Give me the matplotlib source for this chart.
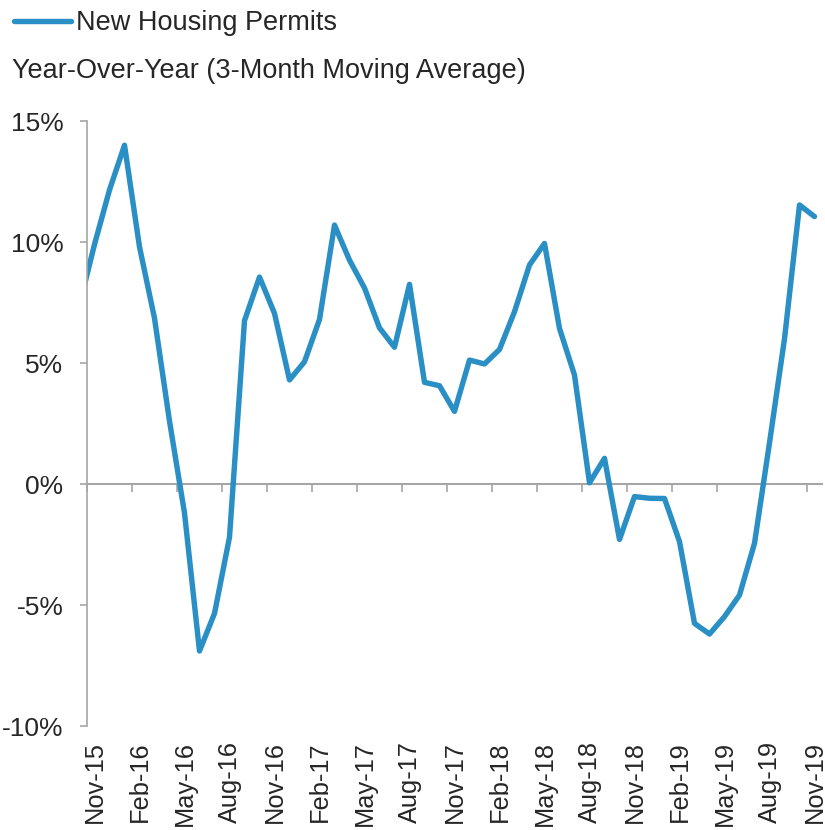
import numpy as np
import matplotlib.pyplot as plt

plt.rcParams['font.family'] = ['Liberation Sans', 'DejaVu Sans']
plt.rcParams['text.color'] = '#262626'
plt.rcParams['xtick.labelcolor'] = '#262626'
plt.rcParams['ytick.labelcolor'] = '#262626'

# Monthly values, Nov-15 .. Nov-19 (a prior Oct-15 value keeps the line running to the axis edge)
prior_value = 7.4
permits_yoy = [9.9, 12.15, 14.0, 9.8, 6.85, 2.6, -1.2, -6.9, -5.35, -2.2, 6.75, 8.55,
               7.05, 4.3, 5.05, 6.8, 10.7, 9.25, 8.1, 6.45, 5.65, 8.25, 4.2, 4.06,
               3.0, 5.12, 4.96, 5.56, 7.12, 9.05, 9.94, 6.43, 4.5, 0.05, 1.06, -2.29,
               -0.52, -0.59, -0.6, -2.38, -5.76, -6.2, -5.48, -4.59, -2.45, 1.7, 6.0, 11.53,
               11.05]
tick_labels = ['Nov-15', 'Feb-16', 'May-16', 'Aug-16', 'Nov-16', 'Feb-17', 'May-17',
               'Aug-17', 'Nov-17', 'Feb-18', 'May-18', 'Aug-18', 'Nov-18', 'Feb-19',
               'May-19', 'Aug-19', 'Nov-19']
y_ticks = [15, 10, 5, 0, -5, -10]

blue = '#2A8FC5'
grey = '#A6A6A6'
fs = 19.5

fig = plt.figure(figsize=(8.25, 8.3), dpi=100)
ax = fig.add_axes([87 / 825, 1 - 726 / 830, 735 / 825, 605 / 830])

x = np.arange(-1, len(permits_yoy))
y = np.array([prior_value] + permits_yoy)
line, = ax.plot(x, y, color=blue, lw=3.9, solid_capstyle='round',
                solid_joinstyle='round', label='New Housing Permits')

ax.set_xlim(-0.5, len(permits_yoy) - 0.5)
ax.set_ylim(-10, 15)

ax.set_yticks(y_ticks)
ax.set_yticklabels([f'{v}%' for v in y_ticks])
ax.tick_params(axis='y', length=5, width=1.2, color=grey, pad=12, labelsize=19)

ax.set_xticks(np.arange(0, len(permits_yoy), 3))
ax.set_xticklabels(tick_labels, rotation=90, va='top', ha='center')
ax.tick_params(axis='x', length=0, pad=11, labelsize=18.3)

for s in ['top', 'right', 'bottom']:
    ax.spines[s].set_visible(False)
ax.spines['left'].set_color(grey)
ax.spines['left'].set_linewidth(1.2)

# zero line with category-boundary tick marks
zero_frac = (0 - (-10)) / 25
sec = ax.secondary_xaxis(zero_frac)
sec.set_xticks(np.arange(-0.5, len(permits_yoy) - 1, 3))
sec.set_xticklabels([])
sec.tick_params(axis='x', length=6, width=1.2, color=grey, direction='out')
sec.spines['bottom'].set_color(grey)
sec.spines['bottom'].set_linewidth(1.5)

fig.legend(handles=[line], loc='upper left', bbox_to_anchor=(14 / 825, 1 - 10 / 830),
           frameon=False, fontsize=fs, handlelength=2.1, handletextpad=0.2,
           borderpad=0, borderaxespad=0)
fig.text(12 / 825, 1 - 71 / 830, 'Year-Over-Year (3-Month Moving Average)',
         fontsize=fs, va='center', ha='left')

fig.savefig('out.png', dpi=100)
